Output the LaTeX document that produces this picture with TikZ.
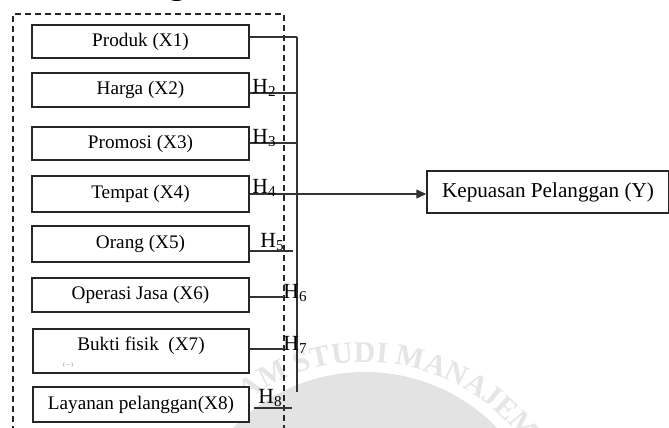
\documentclass[tikz,border=0pt]{standalone}
\usepackage{fontspec}
\setmainfont{Liberation Serif}
\usetikzlibrary{arrows.meta,decorations.text}
\begin{document}
\begin{tikzpicture}[x=0.5pt,y=-0.5pt,
  bx/.style={draw=black!85,line width=0.7pt,fill=white,inner sep=0pt,minimum width=108.5pt,
    font=\fontsize{9.6}{11}\selectfont},
  conn/.style={draw=black!80,line width=0.6pt},
  hl/.style={inner sep=0pt,anchor=base west,font=\fontsize{10.8}{12}\selectfont}
]
\useasboundingbox (0,0) rectangle (669,428);
\clip (0,0) rectangle (669,428);
% watermark
\fill[black!11] (365,556) circle[radius=184];
\path[decorate,decoration={text along path,text align=left,
   text={|\fontsize{15}{16}\bfseries\color{black!10}|RAM STUDI MANAJEM}}]
   (365,560) ++(-133:198) arc[start angle=-133,end angle=-30,radius=198];
% heading fragment
\node[inner sep=0pt,anchor=base,font=\fontsize{16}{18}\bfseries\selectfont] (hd) at (177,-5) {g};
% dashed frame
\draw[black!85,line width=0.6pt,dash pattern=on 3.2pt off 1.8pt] (13,432) -- (13,14) -- (284,14) -- (284,432);
% boxes
\node[bx,minimum height=16.5pt] (b1) at (140.5,41.5) {Produk (X1)};
\node[bx,minimum height=17pt] (b2) at (140.5,90) {Harga (X2)};
\node[bx,minimum height=16.5pt] (b3) at (140.5,143.5) {Promosi (X3)};
\node[bx,minimum height=18pt] (b4) at (140.5,194) {Tempat (X4)};
\node[bx,minimum height=18pt] (b5) at (140.5,244) {Orang (X5)};
\node[bx,minimum height=17pt] (b6) at (140.5,295) {Operasi Jasa (X6)};
\node[bx,minimum height=22pt,minimum width=108pt] (b7) at (141,351) {};
\node[inner sep=0pt,font=\fontsize{9.6}{11}\selectfont] (t7) at (141,346) {Bukti fisik\ \ (X7)};
\node[inner sep=0pt,text=black!45,font=\fontsize{3}{3}\selectfont] (t7b) at (68,365) {(---)};
\node[bx,minimum height=17.5pt,minimum width=108pt] (b8) at (141,404.5) {Layanan pelanggan(X8)};
\node[bx,minimum width=121pt,minimum height=21pt,font=\fontsize{10.6}{12}\selectfont] (y) at (548,192) {Kepuasan Pelanggan (Y)};
% junction coordinates
\coordinate (j1) at (297,37);
\coordinate (j2) at (297,93);
\coordinate (j3) at (297,143);
\coordinate (j4) at (297,194);
\coordinate (j5) at (293,251);
\coordinate (j6) at (285,297);
\coordinate (j7) at (285,349);
\coordinate (j8s) at (254,408);
\coordinate (j8) at (292,408);
\coordinate (vb) at (297,392);
% connectors
\draw[conn] (b1.east |- j1) -- (j1);
\draw[conn] (b2.east |- j2) -- (j2);
\draw[conn] (b3.east |- j3) -- (j3);
\draw[conn] (b4.east |- j4) -- (j4);
\draw[conn] (b5.east |- j5) -- (j5);
\draw[conn] (b6.east |- j6) -- (j6);
\draw[conn] (b7.east |- j7) -- (j7);
\draw[conn] (j8s) -- (j8);
\draw[conn] (j1) -- (vb);
\draw[conn,-{Triangle[length=5pt,width=4.5pt]}] (j4) -- (y.west |- j4);
% hypothesis labels
\node[hl] (h2) at (252,93) {H\textsubscript{2}};
\node[hl] (h3) at (252,143) {H\textsubscript{3}};
\node[hl] (h4) at (252,193) {H\textsubscript{4}};
\node[hl] (h5) at (260,247) {H\textsubscript{5}};
\node[hl] (h6) at (283,298) {H\textsubscript{6}};
\node[hl] (h7) at (283,350) {H\textsubscript{7}};
\node[hl] (h8) at (258,403) {H\textsubscript{8}};
\end{tikzpicture}
\end{document}
